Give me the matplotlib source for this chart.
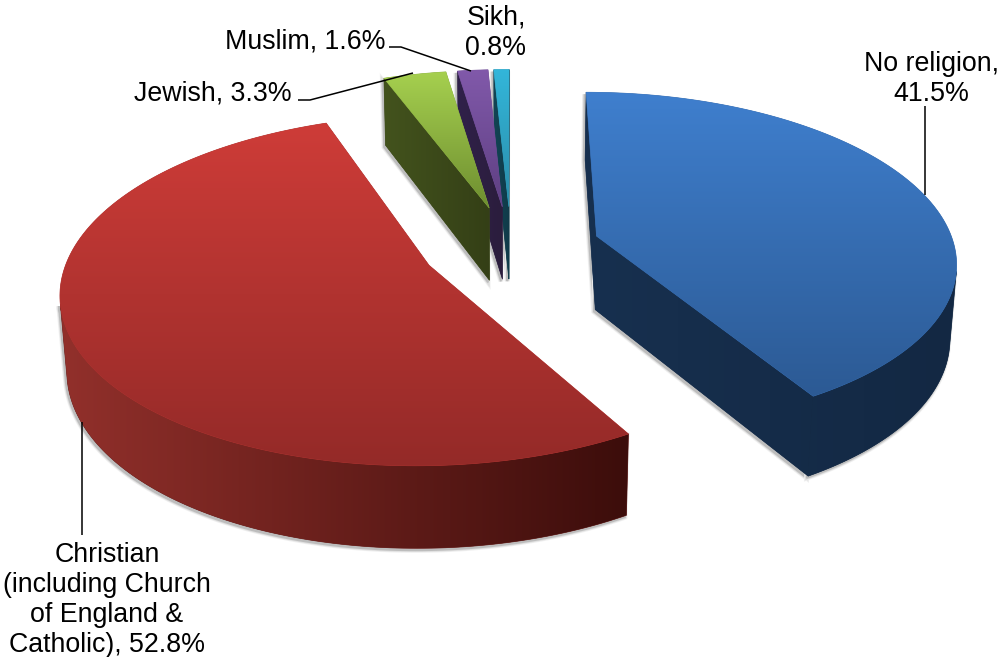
import matplotlib
matplotlib.use('Agg')
import matplotlib.pyplot as plt
from matplotlib.patches import Polygon
import numpy as np

plt.rcParams['font.family'] = ['Liberation Sans', 'DejaVu Sans']

# share of each group, clockwise from 12 o'clock
names = ['No religion', 'Christian', 'Jewish', 'Muslim', 'Sikh']
values = [41.5, 52.8, 3.3, 1.6, 0.8]

top_light = ['#3F7FCE', '#CE3C38', '#A6D04F', '#8159AA', '#33B6DA']
top_dark = ['#2C5A94', '#942A28', '#6E8E30', '#5E3F82', '#2A8CA8']
wall_left = ['#17304F', '#92302B', '#43531D', '#30214A', '#124454']
wall_right = ['#132843', '#3C0D0B', '#343F16', '#2B1D3C', '#103A48']

# projection settings, fitted by eye
cx, cy = 511, 247
radius = 358
squash = 0.466
persp = 0.14
explode = 0.25
depth_px = 74
depth_persp = 0.015


def project(x, y, low=False):
    w = 1 + persp * y
    sx = cx + radius * x / (w + (depth_persp if low else 0))
    sy = cy - radius * squash * y / w + (depth_px / w ** 0.65 if low else 0)
    return np.column_stack([sx, sy])


def area(pts):
    x, y = pts[:, 0], pts[:, 1]
    return np.sum(x * np.roll(y, -1) - np.roll(x, -1) * y)


def gradient_fill(ax, pts, c1, c2, span=None, z=2):
    # span set: colour runs left to right over that x range, otherwise top to bottom
    x0, y0 = pts.min(axis=0)
    x1, y1 = pts.max(axis=0)
    a = np.array(matplotlib.colors.to_rgb(c1))
    b = np.array(matplotlib.colors.to_rgb(c2))
    t = np.linspace(0, 1, 256)
    if span is not None:
        t = (np.linspace(x0, x1, 256) - span[0]) / (span[1] - span[0])
    grad = a[None, :] * (1 - t[:, None]) + b[None, :] * t[:, None]
    img = grad[None, :, :] if span is not None else grad[:, None, :]
    mean = grad.mean(axis=0)
    # plain layer first, it stops light seams along the clipped border
    ax.add_patch(Polygon(pts, closed=True, fc=mean, ec=mean, lw=0.5, zorder=z))
    im = ax.imshow(img, extent=[x0, x1, y1, y0], aspect='auto', zorder=z, interpolation='bilinear')
    patch = Polygon(pts, closed=True, transform=ax.transData, fc='none', ec='none')
    ax.add_patch(patch)
    im.set_clip_path(patch)


fig = plt.figure(figsize=(10, 6.57), dpi=100)
ax = fig.add_axes([0, 0, 1, 1])

edges = np.cumsum([0] + values) / sum(values) * 2 * np.pi
walls = []
tops = []
for i in range(len(values)):
    a0, a1 = edges[i], edges[i + 1]
    mid = (a0 + a1) / 2
    ox, oy = explode * np.sin(mid), explode * np.cos(mid)
    th = np.linspace(a0, a1, 200)
    rx, ry = ox + np.sin(th), oy + np.cos(th)
    top_rim = project(rx, ry)
    low_rim = project(rx, ry, low=True)
    apex_top = project(np.array([ox]), np.array([oy]))
    apex_low = project(np.array([ox]), np.array([oy]), low=True)

    start = np.vstack([apex_top, top_rim[:1], low_rim[:1], apex_low])
    end = np.vstack([apex_top, top_rim[-1:], low_rim[-1:], apex_low])
    parts = []
    if area(start) < 0:
        parts.append(start)
    if area(end) > 0:
        parts.append(end)
    # keep only the part of the rim that faces the viewer
    seen = [k for k in range(len(th) - 1)
            if area(np.vstack([top_rim[k], top_rim[k + 1], low_rim[k + 1], low_rim[k]])) < 0]
    if len(seen) > 1:
        a, b = seen[0], seen[-1] + 2
        parts.append(np.vstack([top_rim[a:b], low_rim[a:b][::-1]]))
    walls.append(parts)
    tops.append(np.vstack([apex_top, top_rim]))

# soft shadow under the walls
for parts in walls:
    for p in parts:
        for lw, col in [(3.6, '#F0F0F0'), (2.4, '#DEDEDE'), (1.2, '#BDBDBD')]:
            ax.add_patch(Polygon(p + [-1.5, 2], closed=True, fc=col, ec=col, lw=lw, zorder=1))

order = [4, 3, 2, 0, 1]
for n, i in enumerate(order):
    z = 2 + n
    all_pts = np.vstack(walls[i])
    span = (all_pts[:, 0].min(), all_pts[:, 0].max())
    for p in walls[i]:
        gradient_fill(ax, p, wall_left[i], wall_right[i], span=span, z=z)
    gradient_fill(ax, tops[i], top_light[i], top_dark[i], z=z + 0.5)

# leader lines
line_kw = dict(color='black', lw=1.1, zorder=20, solid_capstyle='butt')
ax.plot([925, 925], [106, 195], **line_kw)
ax.plot([82, 82], [422, 535], **line_kw)
ax.plot([298, 310, 413], [100, 100, 73], **line_kw)
ax.plot([389, 401, 471], [47, 47, 71], **line_kw)

fs = 19.3
ls = 1.2
ax.text(931, 79, 'No religion,\n41.5%', fontsize=fs, ha='center', va='center', linespacing=ls, zorder=21)
ax.text(107, 600, 'Christian\n(including Church\nof England &\nCatholic), 52.8%', fontsize=fs, ha='center',
        va='center', linespacing=ls, zorder=21)
ax.text(213, 93, 'Jewish, 3.3%', fontsize=fs, ha='center', va='center', zorder=21)
ax.text(305, 41, 'Muslim, 1.6%', fontsize=fs, ha='center', va='center', zorder=21)
ax.text(496, 33, 'Sikh,\n0.8%', fontsize=fs, ha='center', va='center', linespacing=ls, zorder=21)

ax.set_xlim(0, 1000)
ax.set_ylim(657, 0)
ax.axis('off')

plt.savefig('out.png', dpi=100)
plt.close()
